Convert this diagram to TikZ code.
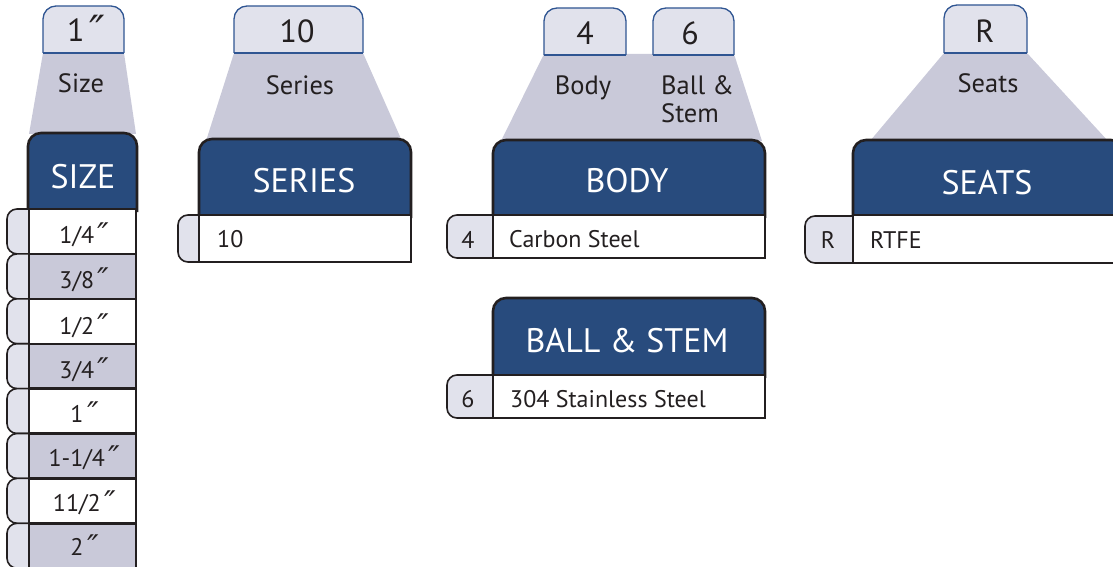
\documentclass[tikz,border=0pt]{standalone}
\usepackage{fontspec}
\setmainfont{PT Sans}
\newfontfamily\dvsfont{DejaVu Sans}[FakeSlant=0.15]
\newcommand{\inchmark}{\kern0.03em\raisebox{-0.12em}{\scalebox{1.3}{\dvsfont ″}}}
\definecolor{hdrc}{HTML}{284B7D}
\definecolor{trapc}{HTML}{C9C9D9}
\definecolor{tabc}{HTML}{E1E2EC}
\definecolor{tabline}{HTML}{2F5592}
\definecolor{txtc}{HTML}{231F20}
\begin{document}
\begin{tikzpicture}[x=1pt,y=-1pt,
  trap/.style={fill=trapc},
  toptab/.style={fill=tabc,draw=tabline,line width=1.3pt,rounded corners=13},
  tabbase/.style={draw=tabline,line width=1.3pt},
  hdr/.style={fill=hdrc,draw=txtc,line width=2.6pt,rounded corners=13},
  rowbox/.style={fill=white,draw=txtc,line width=2.4pt},
  grayrow/.style={rowbox,fill=trapc},
  sidetab/.style={fill=tabc,draw=txtc,line width=1.6pt,rounded corners=10},
  hdrtxt/.style={text=white,font=\fontsize{34}{38}\selectfont,inner sep=0pt,anchor=base},
  toptxt/.style={text=txtc,font=\fontsize{32}{36}\selectfont,inner sep=0pt,anchor=base},
  lbltxt/.style={text=txtc,font=\fontsize{26.5}{30}\selectfont,inner sep=0pt,anchor=base},
  rowtxt/.style={text=txtc,font=\fontsize{24}{28}\selectfont,inner sep=0pt,anchor=base},
  rowtxtl/.style={rowtxt,anchor=base west}]
\useasboundingbox (0,0) rectangle (1113,567);
\clip (0,0) rectangle (1113,567);

% ---------- SIZE ----------
\fill[trap] (43,53) -- (124,53) -- (136,134) -- (29,134) -- cycle;
\path[toptab] (43,53) -- (43,6) -- (124,6) -- (124,53);
\draw[tabbase] (43,53) -- (124,53);
\path[hdr] (28,212) -- (28,133) -- (137,133) -- (137,212);
\foreach \i in {0,...,7}{
  \pgfmathsetmacro{\t}{209+44.9*\i}
  \pgfmathsetmacro{\b}{209+44.9*(\i+1)}
  \draw[sidetab] (7,\t) rectangle (45,\b);
}
\draw[rowbox]  (29,209)   rectangle (136,253.9);
\draw[grayrow] (29,253.9) rectangle (136,298.8);
\draw[rowbox]  (29,298.8) rectangle (136,343.7);
\draw[grayrow] (29,343.7) rectangle (136,388.6);
\draw[rowbox]  (29,388.6) rectangle (136,433.5);
\draw[grayrow] (29,433.5) rectangle (136,478.4);
\draw[rowbox]  (29,478.4) rectangle (136,523.3);
\draw[grayrow] (29,523.3) rectangle (136,568.2);
\node[toptxt] (sizecode) at (84,42) {1\inchmark};
\node[lbltxt] (sizelbl) at (81,93) {Size};
\node[hdrtxt] (sizehdr) at (83,188) {SIZE};
\node[rowtxt] (s1) at (83,243) {1/4\inchmark};
\node[rowtxt] (s2) at (83,288) {3/8\inchmark};
\node[rowtxt] (s3) at (83,334) {1/2\inchmark};
\node[rowtxt] (s4) at (83,378) {3/4\inchmark};
\node[rowtxt] (s5) at (83,422) {1\inchmark};
\node[rowtxt] (s6) at (83,466) {1-1/4\inchmark};
\node[rowtxt] (s7) at (83,511) {11/2\inchmark};
\node[rowtxt] (s8) at (83,555) {2\inchmark};

% ---------- SERIES ----------
\fill[trap] (234,53) -- (363,53) -- (402,141) -- (206,141) -- cycle;
\path[toptab] (234,53) -- (234,6) -- (363,6) -- (363,53);
\draw[tabbase] (234,53) -- (363,53);
\path[hdr] (199,218) -- (199,139) -- (411,139) -- (411,218);
\draw[sidetab] (178,215) rectangle (215,262);
\draw[rowbox] (199,215) rectangle (411,262);
\node[toptxt] (sercode) at (297,43) {10};
\node[lbltxt] (serlbl) at (300,95) {Series};
\node[hdrtxt] (serhdr) at (304,192) {SERIES};
\node[rowtxtl] (ser1) at (217,247) {10};

% ---------- BODY / BALL & STEM ----------
\fill[trap] (544,54) -- (734,54) -- (762,141) -- (501,141) -- cycle;
\path[toptab] (544,55) -- (544,8) -- (626,8) -- (626,55);
\draw[tabbase] (544,55) -- (626,55);
\path[toptab] (653,55) -- (653,8) -- (734,8) -- (734,55);
\draw[tabbase] (653,55) -- (734,55);
\path[hdr] (493,218) -- (493,140) -- (765,140) -- (765,218);
\draw[sidetab] (447,215) rectangle (505,258);
\draw[rowbox] (493,215) rectangle (765,258);
\node[toptxt] (bodycode) at (585,45) {4};
\node[toptxt] (ballcode) at (690,45) {6};
\node[lbltxt] (bodylbl) at (583,95) {Body};
\node[lbltxt,anchor=base west] (balllbl1) at (661,95) {Ball \&};
\node[lbltxt,anchor=base west] (balllbl2) at (661,123) {Stem};
\node[hdrtxt] (bodyhdr) at (627,192) {BODY};
\node[rowtxt] (body4) at (468,248) {4};
\node[rowtxtl] (body1) at (509,247) {Carbon Steel};

\path[hdr] (493,378) -- (493,298) -- (765,298) -- (765,378);
\draw[sidetab] (447,375) rectangle (505,418);
\draw[rowbox] (493,375) rectangle (765,418);
\node[hdrtxt] (ballhdr) at (627,352) {BALL \& STEM};
\node[rowtxt] (ball6) at (468,407) {6};
\node[rowtxtl] (ball1) at (510,407) {304 Stainless Steel};

% ---------- SEATS ----------
\fill[trap] (944,53) -- (1027,53) -- (1108,141) -- (870,141) -- cycle;
\path[toptab] (944,53) -- (944,5) -- (1027,5) -- (1027,53);
\draw[tabbase] (944,53) -- (1027,53);
\path[hdr] (853,218) -- (853,140) -- (1124,140) -- (1124,218);
\draw[sidetab] (805,216) rectangle (865,263);
\draw[rowbox] (853,215) rectangle (1124,263);
\node[toptxt] (seatcode) at (985,43) {R};
\node[lbltxt] (seatlbl) at (988,93) {Seats};
\node[hdrtxt] (seathdr) at (987,194) {SEATS};
\node[rowtxt] (seatR) at (828,248) {R};
\node[rowtxtl] (seat1) at (870,248) {RTFE};
\end{tikzpicture}
\end{document}
